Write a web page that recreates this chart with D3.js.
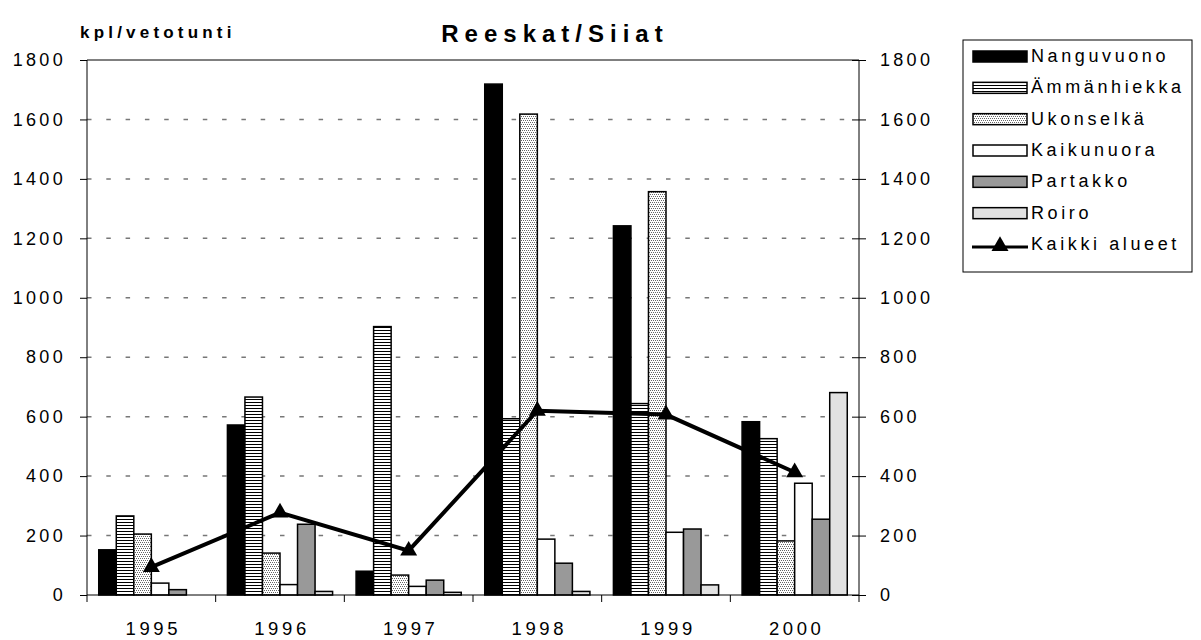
<!DOCTYPE html>
<html>
<head>
<meta charset="utf-8">
<script src="https://cdn.jsdelivr.net/npm/d3@7"></script>
<style>
  body { margin: 0; background: #fff; }
  text { font-family: "Liberation Sans", Arial, sans-serif; fill: #000; }
</style>
</head>
<body>
<div id="chart"></div>
<script>
// data
const years = ['1995', '1996', '1997', '1998', '1999', '2000'];
const seriesNames = ['Nanguvuono', 'Ämmänhiekka', 'Ukonselkä', 'Kaikunuora', 'Partakko', 'Roiro'];
const nanguvuono = [152, 572, 80, 1719, 1242, 583];
const ammanhiekka = [266, 666, 903, 593, 644, 526];
const ukonselka = [205, 141, 67, 1618, 1357, 182];
const kaikunuora = [40, 35, 29, 188, 211, 376];
const partakko = [18, 238, 50, 107, 222, 255];
const roiro = [0, 12, 9, 12, 34, 681];
const kaikkiAlueet = [94, 277, 149, 620, 607, 413];
const lineName = 'Kaikki alueet';
const yTicks = [0, 200, 400, 600, 800, 1000, 1200, 1400, 1600, 1800];

const seriesValues = [nanguvuono, ammanhiekka, ukonselka, kaikunuora, partakko, roiro];
const fills = ['#000', 'url(#hlines)', 'url(#dots)', '#fff', '#999', '#e2e2e2'];

const W = 1201, H = 640;
const margin = {top: 60, right: 342, bottom: 45, left: 87};
const width = W - margin.left - margin.right, height = H - margin.top - margin.bottom;

const svg = d3.select('#chart').append('svg')
    .attr('width', W).attr('height', H);

const defs = svg.append('defs');
const hl = defs.append('pattern').attr('id', 'hlines').attr('patternUnits', 'userSpaceOnUse')
    .attr('width', 4).attr('height', 3);
hl.append('rect').attr('width', 4).attr('height', 3).attr('fill', '#fff');
hl.append('rect').attr('y', 0).attr('width', 4).attr('height', 1).attr('fill', '#000');
const dt = defs.append('pattern').attr('id', 'dots').attr('patternUnits', 'userSpaceOnUse')
    .attr('width', 4).attr('height', 4);
dt.append('rect').attr('width', 4).attr('height', 4).attr('fill', '#fff');
[[0, 0], [2, 0], [1, 2], [3, 2]].forEach(p => {
    dt.append('rect').attr('x', p[0]).attr('y', p[1]).attr('width', 1).attr('height', 1).attr('fill', '#666');
});

const g = svg.append('g').attr('transform', `translate(${margin.left},${margin.top})`);

const x0 = d3.scaleBand().domain(years).range([0, width]).paddingInner(0).paddingOuter(0);
const x1 = d3.scaleBand().domain(seriesNames).range([0, x0.bandwidth()]).paddingInner(0).paddingOuter(0.67);
const y = d3.scaleLinear().domain([0, 1800]).range([height, 0]);

// dashed gridlines
g.append('g').selectAll('line')
    .data(yTicks.filter(d => d > 0 && d < 1800))
    .enter().append('line')
    .attr('x1', 0).attr('x2', width)
    .attr('y1', d => y(d)).attr('y2', d => y(d))
    .attr('stroke', '#777').attr('stroke-width', 1.5)
    .attr('stroke-dasharray', '4.5,14.8');
g.append('line').attr('x1', 0).attr('x2', width).attr('y1', y(1800)).attr('y2', y(1800))
    .attr('stroke', '#000').attr('stroke-width', 1);

// bars
seriesNames.forEach((name, si) => {
    g.append('g').selectAll('rect')
        .data(seriesValues[si].map((v, i) => ({year: years[i], v: v})).filter(d => d.v > 0))
        .enter().append('rect')
        .attr('x', d => x0(d.year) + x1(name))
        .attr('width', x1.bandwidth())
        .attr('y', d => y(d.v))
        .attr('height', d => y(0) - y(d.v))
        .attr('fill', fills[si])
        .attr('stroke', '#000').attr('stroke-width', 1.5);
});

// line series
const lineGen = d3.line().x((d, i) => x0(years[i]) + x0.bandwidth() / 2).y(d => y(d));
g.append('path').datum(kaikkiAlueet).attr('d', lineGen)
    .attr('fill', 'none').attr('stroke', '#000').attr('stroke-width', 4);
const tri = d3.symbol().type(d3.symbolTriangle).size(125);
g.append('g').selectAll('path').data(kaikkiAlueet).enter().append('path')
    .attr('d', tri)
    .attr('transform', (d, i) => `translate(${x0(years[i]) + x0.bandwidth() / 2},${y(d)})`)
    .attr('fill', '#000');

// axes
const fmt = d3.format('d');
const axL = g.append('g').call(d3.axisLeft(y).tickValues(yTicks).tickFormat(fmt).tickSize(7).tickPadding(17));
const axR = g.append('g').attr('transform', `translate(${width},0)`)
    .call(d3.axisRight(y).tickValues(yTicks).tickFormat(fmt).tickSize(7).tickPadding(14));
[axL, axR].forEach(a => {
    a.select('.domain').remove();
    a.selectAll('line').attr('stroke', '#000');
    a.selectAll('text').style('font-size', '18px').style('letter-spacing', '3.3px')
        .style('font-family', '"Liberation Sans", Arial, sans-serif');
});
axL.selectAll('text').attr('dx', 3);
axL.selectAll('.tick line').attr('x2', -7);
axR.selectAll('.tick line').attr('x1', -7).attr('x2', 7);
g.append('line').attr('x1', 0).attr('x2', 0).attr('y1', 0).attr('y2', height + 7).attr('stroke', '#000');
g.append('line').attr('x1', width).attr('x2', width).attr('y1', 0).attr('y2', height + 7).attr('stroke', '#000');
g.append('line').attr('x1', 0).attr('x2', width).attr('y1', height).attr('y2', height).attr('stroke', '#000');

// x ticks on group boundaries
g.append('g').selectAll('line').data(years.slice(1)).enter().append('line')
    .attr('x1', d => x0(d)).attr('x2', d => x0(d))
    .attr('y1', height).attr('y2', height + 7).attr('stroke', '#000');
g.append('g').selectAll('text').data(years).enter().append('text')
    .attr('x', d => x0(d) + x0.bandwidth() / 2 + 2)
    .attr('y', height + 40)
    .attr('text-anchor', 'middle')
    .style('font-size', '18.5px').style('letter-spacing', '3.6px')
    .text(d => d);

// titles
svg.append('text').attr('x', 555).attr('y', 42).attr('text-anchor', 'middle')
    .style('font-size', '24px').style('font-weight', 'bold').style('letter-spacing', '6px')
    .text('Reeskat/Siiat');
svg.append('text').attr('x', 80).attr('y', 38)
    .style('font-size', '17px').style('font-weight', 'bold').style('letter-spacing', '4.2px')
    .text('kpl/vetotunti');

// legend
const lg = svg.append('g').attr('transform', 'translate(963,40)');
lg.append('rect').attr('width', 229).attr('height', 232).attr('fill', '#fff')
    .attr('stroke', '#000').attr('stroke-width', 1);
const rowY = d3.scalePoint().domain(seriesNames.concat([lineName])).range([15, 203]);
seriesNames.forEach((name, si) => {
    lg.append('rect').attr('x', 10).attr('y', rowY(name) - 4).attr('width', 54).attr('height', 11)
        .attr('fill', fills[si]).attr('stroke', '#000').attr('stroke-width', 1.5);
});
lg.append('line').attr('x1', 9).attr('x2', 65).attr('y1', rowY(lineName) + 4).attr('y2', rowY(lineName) + 4)
    .attr('stroke', '#000').attr('stroke-width', 3);
lg.append('path').attr('d', tri).attr('transform', `translate(37,${rowY(lineName) + 3})`).attr('fill', '#000');
lg.selectAll('text.lab').data(seriesNames.concat([lineName])).enter().append('text')
    .attr('x', 68).attr('y', d => rowY(d) + 7)
    .style('font-size', '18px').style('letter-spacing', '3.6px')
    .text(d => d);
</script>
</body>
</html>
